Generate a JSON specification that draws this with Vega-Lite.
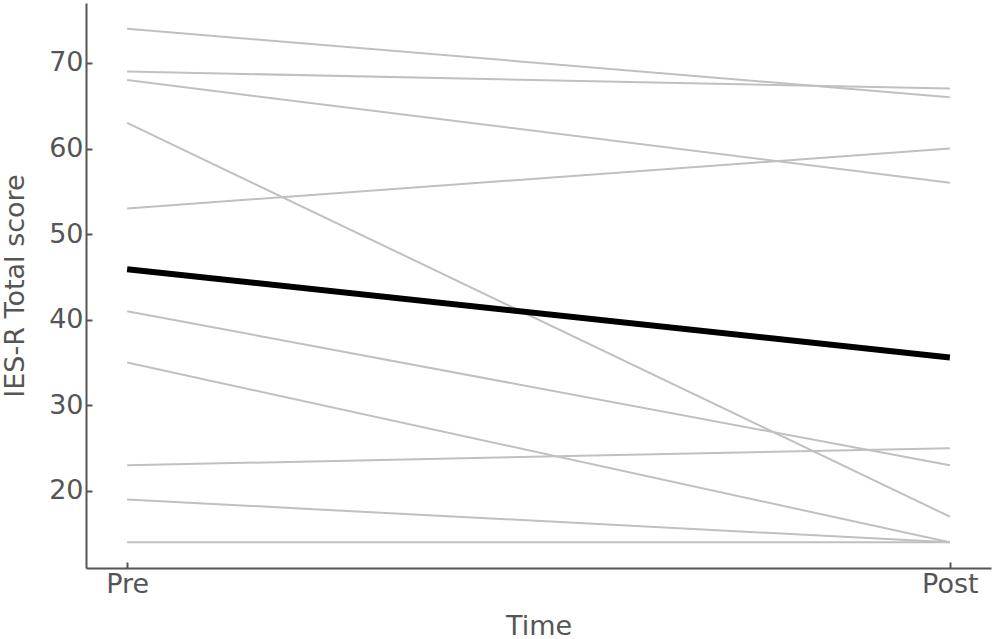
{
  "$schema": "https://vega.github.io/schema/vega-lite/v6.json",
  "autosize": "none",
  "padding": {"left": 86, "top": 3, "right": 2, "bottom": 71},
  "width": 905,
  "height": 565,
  "background": "white",
  "data": {
    "values": [
      {"id": 1, "time": "Pre", "score": 74}, {"id": 1, "time": "Post", "score": 66},
      {"id": 2, "time": "Pre", "score": 69}, {"id": 2, "time": "Post", "score": 67},
      {"id": 3, "time": "Pre", "score": 68}, {"id": 3, "time": "Post", "score": 56},
      {"id": 4, "time": "Pre", "score": 63}, {"id": 4, "time": "Post", "score": 17},
      {"id": 5, "time": "Pre", "score": 53}, {"id": 5, "time": "Post", "score": 60},
      {"id": 6, "time": "Pre", "score": 41}, {"id": 6, "time": "Post", "score": 23},
      {"id": 7, "time": "Pre", "score": 35}, {"id": 7, "time": "Post", "score": 14},
      {"id": 8, "time": "Pre", "score": 23}, {"id": 8, "time": "Post", "score": 25},
      {"id": 9, "time": "Pre", "score": 19}, {"id": 9, "time": "Post", "score": 14},
      {"id": 10, "time": "Pre", "score": 14}, {"id": 10, "time": "Post", "score": 14}
    ]
  },
  "encoding": {
    "x": {
      "field": "time",
      "type": "nominal",
      "sort": ["Pre", "Post"],
      "scale": {"type": "point", "padding": 0.05},
      "title": "Time"
    },
    "y": {
      "field": "score",
      "type": "quantitative",
      "scale": {"domain": [11, 77], "nice": false, "zero": false},
      "axis": {"values": [20, 30, 40, 50, 60, 70]},
      "title": "IES-R Total score"
    }
  },
  "layer": [
    {
      "mark": {"type": "line", "color": "#c0c0c0", "strokeWidth": 2},
      "encoding": {"detail": {"field": "id", "type": "nominal"}}
    },
    {
      "mark": {"type": "line", "color": "black", "strokeWidth": 6},
      "encoding": {
        "y": {"aggregate": "mean", "field": "score", "type": "quantitative"}
      }
    }
  ],
  "config": {
    "view": {"stroke": null},
    "font": "DejaVu Sans",
    "axis": {
      "grid": false,
      "domainColor": "#555555",
      "domainWidth": 2,
      "tickColor": "#555555",
      "tickWidth": 2,
      "tickSize": -6,
      "labelFont": "DejaVu Sans",
      "labelFontSize": 27,
      "labelColor": "#555555",
      "labelPadding": 9,
      "titleFont": "DejaVu Sans",
      "titleFontSize": 27,
      "titleFontWeight": "normal",
      "titleColor": "#555555"
    },
    "axisX": {"labelAngle": 0, "titlePadding": 16},
    "axisY": {"titlePadding": 19}
  }
}
